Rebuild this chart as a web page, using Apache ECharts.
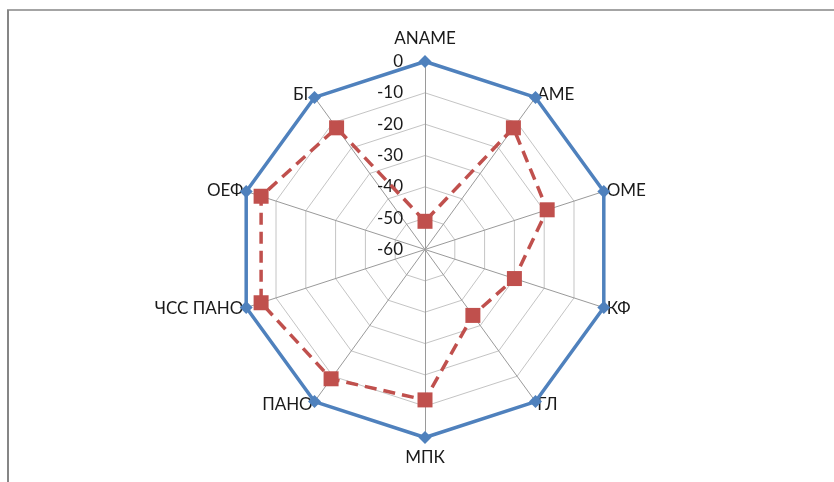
<!DOCTYPE html>
<html>
<head>
<meta charset="utf-8">
<script src="https://cdn.jsdelivr.net/npm/echarts@6/dist/echarts.min.js"></script>
<style>
html,body{margin:0;padding:0;background:#fff;}
#main{width:834px;height:482px;}
</style>
</head>
<body>
<div id="main"></div>
<script>
// Categories clockwise from top
var categories = ['ANAME', 'AME', 'OME', 'КФ', 'ГЛ', 'МПК', 'ПАНО', 'ЧСС ПАНО', 'ОЕФ', 'БГ'];
// Outer reference series (blue)
var seriesBlue = [0, 0, 0, 0, 0, 0, 0, 0, 0, 0];
// Measured series (red, dashed)
var seriesRed = [-51, -12, -19, -30, -34, -12, -9, -5, -5, -12];
// Radial tick labels
var tickValues = [-60, -50, -40, -30, -20, -10, 0];

var axisMin = tickValues[0];
var axisMax = tickValues[tickValues.length - 1];

// ECharts radar lays indicators counter-clockwise; reorder to get clockwise layout
function toCCW(arr) { return [arr[0]].concat(arr.slice(1).reverse()); }

var FS = 17;
var cats = toCCW(categories);
var indicator = cats.map(function (name, i) {
  var ind = { name: name, min: axisMin, max: axisMax };
  if (i === 0) ind.axisLabel = { show: true };
  return ind;
});

var chart = echarts.init(document.getElementById('main'), null, { renderer: 'canvas' });
chart.setOption({
  animation: false,
  backgroundColor: '#ffffff',
  graphic: [
    { type: 'line', shape: { x1: 7, y1: 10, x2: 834, y2: 10 }, style: { stroke: '#868686', lineWidth: 1.5 } },
    { type: 'line', shape: { x1: 8, y1: 10, x2: 8, y2: 482 }, style: { stroke: '#868686', lineWidth: 2 } }
  ],
  radar: {
    center: [425, 249.5],
    radius: 188,
    startAngle: 90,
    shape: 'polygon',
    splitNumber: tickValues.length - 1,
    indicator: indicator,
    axisName: {
      color: '#1a1a1a',
      fontFamily: 'Lato',
      fontSize: FS,
      formatter: function (name) {
        if (name === 'ANAME') return '{top|' + name + '}';
        if (name === 'МПК') return '{bot|' + name + '}';
        return name;
      },
      rich: {
        top: { fontFamily: 'Lato', fontSize: FS, color: '#1a1a1a', padding: [0, 0, 11, 0] },
        bot: { fontFamily: 'Lato', fontSize: FS, color: '#1a1a1a', padding: [9, 0, 0, 0] }
      }
    },
    nameGap: 3,
    axisLine: { show: true, lineStyle: { color: '#9a9a9a', width: 1 } },
    splitLine: { show: true, lineStyle: { color: '#c4c4c4', width: 1 } },
    splitArea: { show: false },
    axisTick: { show: false },
    axisLabel: {
      show: false,
      color: '#1a1a1a',
      fontFamily: 'Lato',
      fontSize: FS,
      margin: 22,
      showMinLabel: true,
      showMaxLabel: true
    }
  },
  series: [
    {
      type: 'radar',
      z: 3,
      symbol: 'diamond',
      symbolSize: 13,
      lineStyle: { color: '#4F81BD', width: 3.5 },
      itemStyle: { color: '#4F81BD' },
      data: [{ value: toCCW(seriesBlue), name: 'Норма' }]
    },
    {
      type: 'radar',
      z: 4,
      symbol: 'rect',
      symbolSize: 15,
      lineStyle: { color: '#C0504D', width: 3.5, type: [12, 7] },
      itemStyle: { color: '#C0504D' },
      data: [{ value: toCCW(seriesRed), name: 'Пациент' }]
    }
  ]
});
</script>
</body>
</html>
